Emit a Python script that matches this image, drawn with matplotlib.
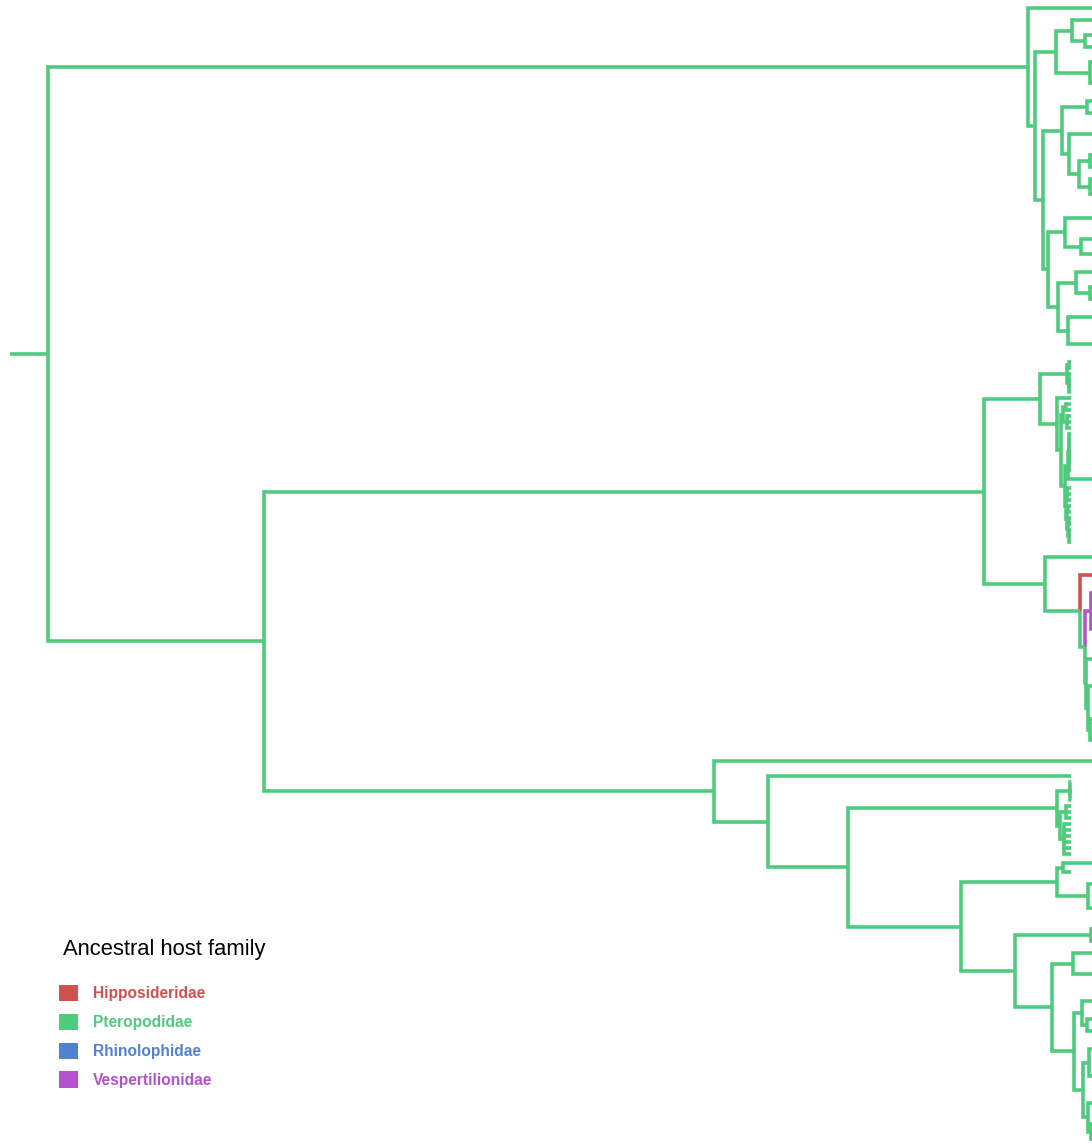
import matplotlib
matplotlib.use("Agg")
import matplotlib.pyplot as plt
from matplotlib.collections import LineCollection
from matplotlib.patches import Patch

plt.rcParams["font.family"] = ["Liberation Sans", "DejaVu Sans"]

# ancestral host family states and their colours
families = ["Hipposideridae", "Pteropodidae", "Rhinolophidae", "Vespertilionidae"]
family_codes = ["H", "P", "R", "V"]
family_colors = ["#cf5151", "#4fcb7e", "#5181d0", "#b552d0"]

# tree as nested tuples: (node depth, [family code], *children); a bare number is a tip depth.
# children inherit the family of their parent unless a code is given.
clade_a = (1028,
    1130,
    (1035,
        (1056,
            (1072,
                (1110, 1130, 1130, 1130),
                (1085, (1110, 1130, 1130), (1110, 1130, 1130))),
            (1090, (1110, 1130, 1130, 1130), (1110, 1130, 1130, 1130, 1130))),
        (1043,
            (1062,
                (1087, (1110, 1130, 1130), (1110, 1130, 1130)),
                (1069,
                    (1110, 1130, 1130, 1130, 1130, 1130),
                    (1079,
                        (1090, (1110, 1130, 1130), (1110, 1130, 1130)),
                        (1090, (1110, 1130, 1130), (1110, 1130, 1130, 1130))))),
            (1048,
                (1065,
                    (1110, 1130, 1130, 1130, 1130, 1130),
                    (1081, (1110, 1130, 1130), (1110, 1130, 1130, 1130))),
                (1058,
                    (1076, (1110, 1130, 1130, 1130),
                        (1090, (1110, 1130, 1130), (1110, 1130, 1130))),
                    (1068, (1110, 1130, 1130, 1130, 1130),
                        (1110, 1130, 1130, 1130, 1130, 1130)))))))

clade_b1a = (1040,
    (1067, (1068.5, 1071, 1071), (1069, 1071, 1071, 1071, 1071)),
    (1057,
        1071,
        (1061,
            (1063, (1066, 1071, 1071), (1067, 1071, 1071, 1071)),
            (1065,
                (1068, (1069, 1071, 1071, 1071, 1071, 1071, 1071, 1071), (1110, 1130, 1130)),
                (1065.5, (1067, 1071, 1071, 1071),
                    (1066.5, (1068, 1071, 1071),
                        (1067.5, (1069, 1071, 1071), (1069, 1071, 1071, 1071))))))))

clade_b1b = (1045,
    (1110, 1130, 1130, 1130, 1130),
    (1080,
        (1110, "H", 1130, 1130),
        (1085,
            (1091, "V", (1110, 1130, 1130, 1130, 1130),
                (1110, 1130, 1130, 1130, 1130, 1130, 1130, 1130, 1130)),
            (1086,
                (1110, 1130, 1130),
                (1088, (1110, 1130, 1130, 1130, 1130, 1130, 1130, 1130),
                    (1090, (1110, 1130, 1130, 1130, 1130), (1110, 1130, 1130, 1130)))))))

clade_b2 = (714,
    (1110, 1130, 1130, 1130, 1130),
    (768,
        1071,
        (848,
            (1057,
                (1070, 1071, 1071, 1071, 1071),
                (1060, (1066, 1071, 1071, 1071), (1064, 1071, 1071, 1071, 1071, 1071, 1071))),
            (961,
                (1057,
                    (1063, (1110, 1130, 1130), 1071),
                    (1088, (1110, 1130, 1130, 1130), (1110, 1130, 1130, 1130, 1130, 1130))),
                (1015,
                    (1091, (1110, 1130, 1130), (1110, 1130, 1130)),
                    (1052,
                        (1073, (1110, 1130, 1130), (1110, 1130, 1130, 1130, 1130, 1130)),
                        (1074,
                            (1082, (1110, 1130, 1130, 1130, 1130),
                                (1087, (1110, 1130, 1130), (1110, 1130, 1130))),
                            (1083,
                                (1089, (1110, 1130, 1130, 1130, 1130),
                                    (1110, 1130, 1130, 1130, 1130, 1130)),
                                (1088, (1110, 1130, 1130, 1130, 1130),
                                    (1091, (1110, 1130, 1130, 1130), (1110, 1130, 1130)))))))))))

tree = (48, "P", clade_a, (264, (984, clade_b1a, clade_b1b), clade_b2))
root_edge = 38

palette = dict(zip(family_codes, family_colors))
tips = []
segments, seg_colors = [], []


def place(node, fam):
    # rectangular layout: tips stacked in order, nodes at the mean of their children
    if not isinstance(node, tuple):
        y = len(tips)
        tips.append(y)
        return node, y, fam
    x, *kids = node
    if isinstance(kids[0], str):
        fam, *kids = kids
    placed = [place(k, fam) for k in kids]
    y = sum(p[1] for p in placed) / len(placed)
    for cx, cy, cf in placed:
        segments.append([(x, y), (x, cy), (cx, cy)])
        seg_colors.append(palette[cf])
    return x, y, fam


rx, ry, rf = place(tree, "P")
segments.append([(rx - root_edge, ry), (rx, ry)])
seg_colors.append(palette[rf])

fig = plt.figure(figsize=(10.92, 11.45), dpi=100)
ax = fig.add_axes([0, 0, 1, 1])
lc = LineCollection(segments, colors=seg_colors, linewidths=2.6,
                    joinstyle="miter", capstyle="butt")
ax.add_collection(lc)
ax.set_xlim(0, 1092)
ax.set_ylim(len(tips) - 0.5, -1.35)
ax.axis("off")

# legend: title drawn on its own so the gap below it can be set freely
fig.text(63 / 1092, 1 - 950 / 1145, "Ancestral host family", fontsize=15.8,
         ha="left", va="center")
handles = [Patch(facecolor=c, edgecolor="none") for c in family_colors]
ax.legend(handles, families, loc="upper left",
          bbox_to_anchor=(59 / 1092, 1 - 985 / 1145),
          frameon=False, prop={"weight": "bold", "size": 11.2},
          labelcolor=family_colors, handlelength=1.23, handleheight=1.23,
          handletextpad=0.97, labelspacing=0.8, borderpad=0, borderaxespad=0)

fig.savefig("out.png", dpi=100)
